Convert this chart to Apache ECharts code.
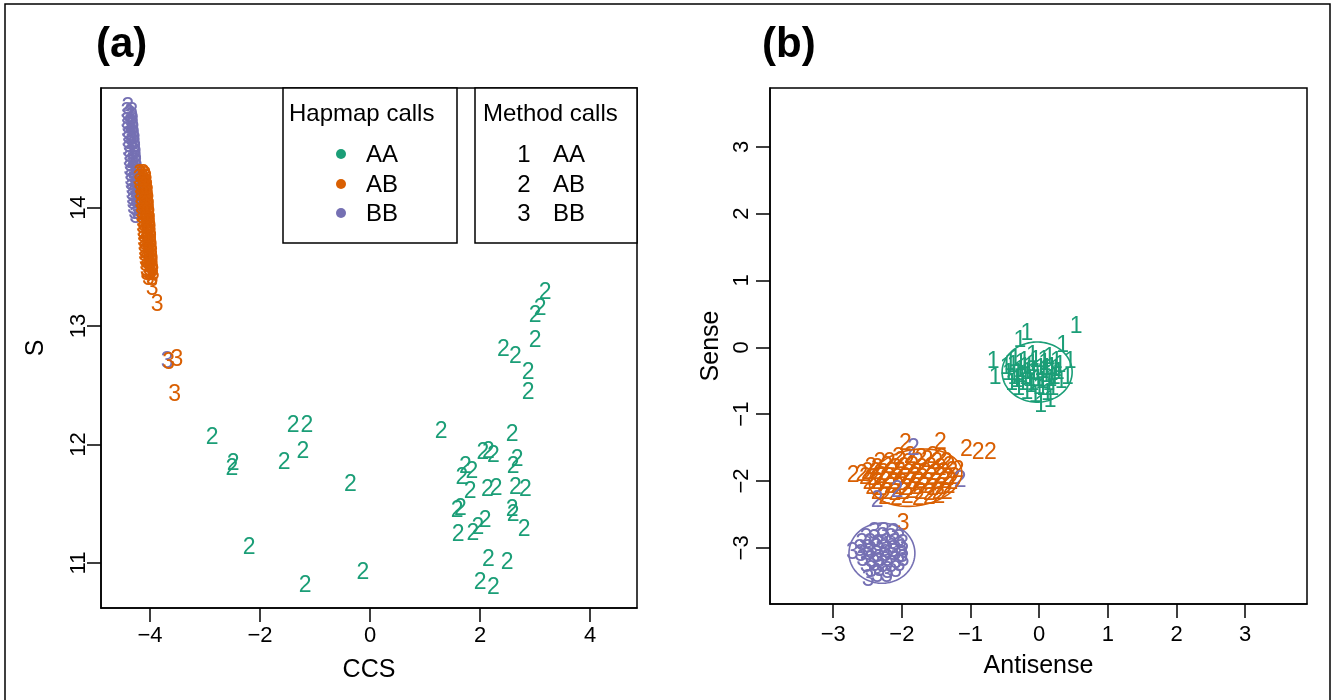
<!DOCTYPE html>
<html>
<head>
<meta charset="utf-8">
<script src="https://cdn.jsdelivr.net/npm/echarts@6/dist/echarts.min.js"></script>
<style>
  html, body { margin: 0; padding: 0; background: #ffffff; }
  #chart { width: 1334px; height: 700px; }
</style>
</head>
<body>
<div id="chart"></div>
<script>
// ---- Palette (Dark2) ----
const GREEN = '#1B9E77';
const ORANGE = '#D95F02';
const PURPLE = '#7570B3';
const FONT = '"Liberation Sans", Arial, Helvetica, sans-serif';

// ---- Panel (a): CCS vs S ----
const ccsTicks = [-4, -2, 0, 2, 4];
const sTicks = [11, 12, 13, 14];

// Hapmap AA, method call 2
const aAA2 = [
  [-2.87, 12.06], [-2.49, 11.84], [-2.51, 11.80], [-1.40, 12.16], [-1.15, 12.16],
  [-1.22, 11.94], [-1.56, 11.85], [-0.36, 11.66], [-2.20, 11.13], [-1.18, 10.81],
  [-0.13, 10.92],
  [3.18, 13.28], [3.09, 13.15], [3.00, 13.09], [3.00, 12.88], [2.42, 12.80],
  [2.64, 12.74], [2.87, 12.61], [2.87, 12.44], [1.29, 12.11], [2.58, 12.08],
  [2.05, 11.93], [2.15, 11.94], [2.24, 11.91], [2.67, 11.87], [2.60, 11.81],
  [1.73, 11.81], [1.85, 11.77], [1.67, 11.72], [1.82, 11.60], [2.13, 11.62],
  [2.29, 11.63], [2.64, 11.64], [2.82, 11.62], [1.64, 11.46], [1.58, 11.44],
  [2.58, 11.45], [2.60, 11.41], [2.09, 11.36], [1.96, 11.30], [1.87, 11.25],
  [1.60, 11.24], [2.80, 11.28], [2.15, 11.03], [2.49, 11.00], [2.00, 10.83],
  [2.24, 10.79]
];

// Hapmap BB, method call 3
const aBB3 = [
  [-4.40, 14.84], [-4.42, 14.80], [-4.33, 14.80], [-4.41, 14.76], [-4.33, 14.76],
  [-4.42, 14.72], [-4.31, 14.72], [-4.40, 14.68], [-4.31, 14.68], [-4.41, 14.64],
  [-4.30, 14.64], [-4.39, 14.60], [-4.29, 14.60], [-4.40, 14.56], [-4.28, 14.56],
  [-4.38, 14.52], [-4.28, 14.52], [-4.39, 14.48], [-4.27, 14.48], [-4.37, 14.44],
  [-4.26, 14.44], [-4.38, 14.40], [-4.26, 14.40], [-4.36, 14.36], [-4.25, 14.36],
  [-4.37, 14.32], [-4.24, 14.32], [-4.35, 14.28], [-4.24, 14.28], [-4.35, 14.24],
  [-4.23, 14.24], [-4.34, 14.20], [-4.23, 14.20], [-4.33, 14.16], [-4.22, 14.16],
  [-4.33, 14.12], [-4.22, 14.12], [-4.32, 14.08], [-4.21, 14.08], [-4.31, 14.04],
  [-4.21, 14.04], [-4.30, 14.00], [-4.21, 14.00], [-4.28, 13.96], [-4.22, 13.96],
  [-4.26, 13.92], [-4.35, 14.58], [-4.32, 14.30], [-4.29, 14.10],
  [-4.37, 14.78], [-4.36, 14.70], [-4.35, 14.62], [-4.33, 14.54], [-4.32, 14.46],
  [-4.31, 14.38], [-4.30, 14.30], [-4.29, 14.22], [-4.27, 14.14], [-4.26, 14.06],
  [-4.25, 13.98],
  [-3.69, 12.70]
];

// Hapmap AB, method call 3
const aAB3 = [
  [-4.19, 14.28], [-4.12, 14.28], [-4.20, 14.24], [-4.13, 14.24], [-4.07, 14.24],
  [-4.19, 14.20], [-4.12, 14.20], [-4.06, 14.20], [-4.18, 14.16], [-4.11, 14.16],
  [-4.05, 14.16], [-4.18, 14.12], [-4.11, 14.12], [-4.04, 14.12], [-4.17, 14.08],
  [-4.10, 14.08], [-4.04, 14.08], [-4.17, 14.04], [-4.10, 14.04], [-4.03, 14.04],
  [-4.16, 14.00], [-4.09, 14.00], [-4.02, 14.00], [-4.15, 13.96], [-4.08, 13.96],
  [-4.02, 13.96], [-4.15, 13.92], [-4.08, 13.92], [-4.01, 13.92], [-4.14, 13.88],
  [-4.07, 13.88], [-4.00, 13.88], [-4.14, 13.84], [-4.06, 13.84], [-4.00, 13.84],
  [-4.13, 13.80], [-4.06, 13.80], [-3.99, 13.80], [-4.12, 13.76], [-4.05, 13.76],
  [-3.99, 13.76], [-4.12, 13.72], [-4.05, 13.72], [-3.98, 13.72], [-4.11, 13.68],
  [-4.04, 13.68], [-3.98, 13.68], [-4.10, 13.64], [-4.03, 13.64], [-3.97, 13.64],
  [-4.10, 13.60], [-4.03, 13.60], [-3.96, 13.60], [-4.09, 13.56], [-4.02, 13.56],
  [-3.96, 13.56], [-4.08, 13.52], [-4.01, 13.52], [-3.95, 13.52], [-4.07, 13.48],
  [-4.01, 13.48], [-3.95, 13.48], [-4.06, 13.44], [-4.00, 13.44], [-3.94, 13.44],
  [-4.16, 14.26], [-4.09, 14.26], [-4.15, 14.18], [-4.08, 14.18], [-4.14, 14.10],
  [-4.07, 14.10], [-4.13, 14.02], [-4.06, 14.02], [-4.12, 13.94], [-4.05, 13.94],
  [-4.11, 13.86], [-4.04, 13.86], [-4.10, 13.78], [-4.03, 13.78], [-4.09, 13.70],
  [-4.02, 13.70], [-4.08, 13.62], [-4.01, 13.62], [-4.07, 13.54], [-4.00, 13.54],
  [-4.06, 13.46], [-3.99, 13.46],
  [-4.03, 13.40], [-3.96, 13.40], [-3.96, 13.32], [-3.87, 13.18],
  [-3.66, 12.69], [-3.51, 12.72], [-3.55, 12.42]
];

// ---- Panel (b): Antisense vs Sense ----
const senseTicks = [-3, -2, -1, 0, 1, 2, 3];

// Hapmap AA, method call 1
const bAA1 = [
  [0.54, 0.31], [-0.18, 0.21], [-0.28, 0.10], [-0.67, -0.22], [-0.64, -0.45],
  [0.34, 0.03], [0.45, -0.22], [0.41, -0.45], [0.16, -0.80],
  [-0.45, -0.40], [-0.38, -0.28], [-0.33, -0.50], [-0.28, -0.35], [-0.22, -0.22],
  [-0.20, -0.45], [-0.15, -0.30], [-0.12, -0.58], [-0.08, -0.38], [-0.05, -0.20],
  [-0.02, -0.48], [0.02, -0.32], [0.05, -0.62], [0.08, -0.25], [0.10, -0.42],
  [0.14, -0.55], [0.18, -0.30], [0.22, -0.45], [0.25, -0.22], [0.28, -0.38],
  [-0.40, -0.55], [-0.30, -0.62], [-0.18, -0.68], [-0.06, -0.72], [0.00, -0.60],
  [0.12, -0.70], [-0.35, -0.18], [-0.10, -0.12], [0.15, -0.15], [-0.25, -0.42],
  [0.06, -0.36], [-0.48, -0.30], [0.32, -0.52], [-0.14, -0.48], [0.20, -0.62],
  [0.02, -0.88], [-0.42, -0.24], [-0.31, -0.40], [-0.24, -0.55], [-0.17, -0.38],
  [-0.10, -0.26], [-0.03, -0.40], [0.04, -0.52], [0.11, -0.32], [0.17, -0.48],
  [0.24, -0.34], [0.30, -0.28], [-0.37, -0.46], [-0.21, -0.30], [0.07, -0.20],
  [0.19, -0.40], [-0.09, -0.54], [-0.27, -0.25]
];

// Hapmap AB, method call 2
const bAB2 = [
  [-2.71, -1.92], [-2.58, -1.90], [-1.95, -1.44], [-1.44, -1.42], [-1.06, -1.53],
  [-0.89, -1.57], [-0.71, -1.57], [-1.18, -1.84],
  [-2.05, -1.65], [-1.88, -1.64], [-1.72, -1.66], [-1.55, -1.64], [-1.42, -1.67],
  [-2.32, -1.72], [-2.18, -1.73], [-2.02, -1.71], [-1.91, -1.74], [-1.77, -1.72],
  [-1.63, -1.70], [-1.49, -1.73], [-1.35, -1.72],
  [-2.45, -1.80], [-2.36, -1.82], [-2.22, -1.79], [-2.09, -1.81], [-1.97, -1.80],
  [-1.84, -1.78], [-1.71, -1.81], [-1.58, -1.80], [-1.44, -1.82], [-1.31, -1.79],
  [-2.50, -1.88], [-2.38, -1.87], [-2.27, -1.89], [-2.14, -1.88], [-2.03, -1.86],
  [-1.90, -1.89], [-1.79, -1.88], [-1.66, -1.87], [-1.52, -1.89], [-1.39, -1.88],
  [-1.27, -1.86],
  [-2.53, -1.95], [-2.41, -1.96], [-2.30, -1.94], [-2.19, -1.95], [-2.06, -1.97],
  [-1.95, -1.95], [-1.82, -1.94], [-1.70, -1.96], [-1.57, -1.95], [-1.45, -1.93],
  [-1.33, -1.96], [-1.24, -1.95],
  [-2.48, -2.02], [-2.35, -2.03], [-2.24, -2.01], [-2.11, -2.02], [-2.00, -2.04],
  [-1.87, -2.02], [-1.76, -2.01], [-1.62, -2.03], [-1.50, -2.02], [-1.38, -2.01],
  [-1.27, -2.03],
  [-2.44, -2.10], [-2.31, -2.11], [-2.17, -2.09], [-2.05, -2.10], [-1.93, -2.12],
  [-1.80, -2.10], [-1.68, -2.09], [-1.55, -2.11], [-1.43, -2.10], [-1.31, -2.08],
  [-2.36, -2.18], [-2.22, -2.17], [-2.10, -2.19], [-1.98, -2.18], [-1.85, -2.16],
  [-1.73, -2.18], [-1.60, -2.19], [-1.47, -2.17], [-1.35, -2.18],
  [-2.25, -2.25], [-2.08, -2.26], [-1.92, -2.24], [-1.76, -2.26], [-1.60, -2.25],
  [-1.46, -2.24]
];

// Hapmap BB, method call 2
const bBB2 = [[-1.83, -1.51], [-1.15, -1.99], [-2.36, -2.29], [-2.07, -2.14]];

// Hapmap BB, method call 3
const bBB3 = [
  [-2.40, -2.78], [-2.26, -2.77], [-2.12, -2.79],
  [-2.52, -2.86], [-2.40, -2.87], [-2.28, -2.85], [-2.16, -2.86], [-2.04, -2.88],
  [-2.58, -2.94], [-2.46, -2.93], [-2.34, -2.95], [-2.22, -2.94], [-2.10, -2.93],
  [-1.99, -2.95],
  [-2.61, -3.02], [-2.49, -3.03], [-2.37, -3.01], [-2.25, -3.02], [-2.13, -3.04],
  [-2.01, -3.02],
  [-2.60, -3.10], [-2.48, -3.09], [-2.36, -3.11], [-2.24, -3.10], [-2.12, -3.09],
  [-2.00, -3.11],
  [-2.57, -3.18], [-2.45, -3.19], [-2.33, -3.17], [-2.21, -3.18], [-2.09, -3.20],
  [-1.98, -3.18],
  [-2.52, -3.26], [-2.40, -3.25], [-2.28, -3.27], [-2.16, -3.26], [-2.04, -3.25],
  [-2.45, -3.34], [-2.33, -3.33], [-2.21, -3.35], [-2.09, -3.34],
  [-2.36, -3.42], [-2.22, -3.41],
  [-2.72, -3.07], [-2.49, -3.48]
];

// Hapmap AB, method call 3
const bAB3 = [[-1.98, -2.64]];

// Cluster ellipses: centre x, centre y, radius x, radius y, tilt (deg)
const ellipseAA = [-0.03, -0.37, 0.51, 0.45, 0];
const ellipseAB = [-1.80, -1.95, 0.68, 0.42, 10];
const ellipseBB = [-2.29, -3.08, 0.48, 0.45, 0];

// ---- Chart ----
const chart = echarts.init(document.getElementById('chart'), null, { renderer: 'canvas' });

const minus = v => (v < 0 ? '\u2212' + Math.abs(v) : String(v));

function glyphs(axis, data, ch, color) {
  return {
    type: 'custom',
    xAxisIndex: axis, yAxisIndex: axis,
    silent: true,
    data: data,
    renderItem: function (params, api) {
      const p = api.coord([api.value(0), api.value(1)]);
      return {
        type: 'text', x: p[0], y: p[1],
        style: {
          text: ch, fill: color, fontSize: 23, fontFamily: FONT,
          align: 'center', verticalAlign: 'middle'
        }
      };
    }
  };
}

function ellipse(axis, e, color) {
  return {
    type: 'custom',
    xAxisIndex: axis, yAxisIndex: axis,
    silent: true,
    data: [e],
    renderItem: function (params, api) {
      const cx = api.value(0), cy = api.value(1), rx = api.value(2), ry = api.value(3);
      const a = api.value(4) * Math.PI / 180;
      const pts = [];
      for (let k = 0; k <= 90; k++) {
        const t = k / 90 * 2 * Math.PI;
        const dx = rx * Math.cos(t), dy = ry * Math.sin(t);
        pts.push(api.coord([cx + dx * Math.cos(a) - dy * Math.sin(a),
                            cy + dx * Math.sin(a) + dy * Math.cos(a)]));
      }
      return { type: 'polyline', shape: { points: pts }, style: { fill: null, stroke: color, lineWidth: 1.6 } };
    }
  };
}

function valueAxis(grid, min, max, ticks, name, nameGap, isY, labelMargin) {
  return {
    type: 'value', gridIndex: grid, min: min, max: max,
    name: name, nameLocation: 'middle', nameGap: nameGap,
    nameTextStyle: { fontSize: 25, color: '#000', fontFamily: FONT },
    axisLine: { show: true, onZero: false, lineStyle: { color: '#000', width: 1.5 } },
    axisTick: { show: true, customValues: ticks, length: 14, lineStyle: { color: '#000', width: 1.5 } },
    axisLabel: {
      customValues: ticks, fontSize: 22, color: '#000', fontFamily: FONT,
      margin: labelMargin, rotate: isY ? 90 : 0, formatter: minus
    },
    splitLine: { show: false }
  };
}

const option = {
  backgroundColor: '#ffffff',
  animation: false,
  grid: [
    { left: 101, top: 88, width: 536, height: 520, show: true, borderColor: '#000', borderWidth: 1.5, containLabel: false },
    { left: 770, top: 88, width: 537, height: 516, show: true, borderColor: '#000', borderWidth: 1.5, containLabel: false }
  ],
  xAxis: [
    valueAxis(0, -4.89, 4.85, ccsTicks, 'CCS', 50, false, 17),
    valueAxis(1, -3.92, 3.90, senseTicks, 'Antisense', 50, false, 20)
  ],
  yAxis: [
    valueAxis(0, 10.62, 15.01, sTicks, 'S', 52, true, 11),
    valueAxis(1, -3.84, 3.88, senseTicks, 'Sense', 46, true, 17)
  ],
  series: [
    glyphs(0, aBB3, '3', PURPLE),
    glyphs(0, aAB3, '3', ORANGE),
    glyphs(0, aAA2, '2', GREEN),
    glyphs(1, bAA1, '1', GREEN),
    glyphs(1, bAB2, '2', ORANGE),
    glyphs(1, bBB2, '2', PURPLE),
    glyphs(1, bBB3, '3', PURPLE),
    glyphs(1, bAB3, '3', ORANGE),
    ellipse(1, ellipseAA, GREEN),
    ellipse(1, ellipseAB, ORANGE),
    ellipse(1, ellipseBB, PURPLE)
  ],
  graphic: [
    // outer frame
    { type: 'rect', shape: { x: 5, y: 4, width: 1325, height: 710 }, style: { fill: null, stroke: '#000', lineWidth: 1.5 }, silent: true },
    // panel titles
    { type: 'text', left: 96, top: 24, style: { text: '(a)', fontSize: 42, fontWeight: 'bold', fontFamily: FONT, fill: '#000' } },
    { type: 'text', left: 762, top: 24, style: { text: '(b)', fontSize: 42, fontWeight: 'bold', fontFamily: FONT, fill: '#000' } },
    // legend: Hapmap calls
    { type: 'rect', shape: { x: 283, y: 88, width: 174, height: 155 }, style: { fill: '#fff', stroke: '#000', lineWidth: 1.5 }, z: 10 },
    { type: 'text', x: 289, y: 114, style: { text: 'Hapmap calls', fontSize: 24, fontFamily: FONT, fill: '#000', verticalAlign: 'middle' }, z: 11 },
    { type: 'circle', shape: { cx: 341, cy: 154, r: 5 }, style: { fill: GREEN }, z: 11 },
    { type: 'circle', shape: { cx: 341, cy: 184, r: 5 }, style: { fill: ORANGE }, z: 11 },
    { type: 'circle', shape: { cx: 341, cy: 213, r: 5 }, style: { fill: PURPLE }, z: 11 },
    { type: 'text', x: 366, y: 155, style: { text: 'AA', fontSize: 24, fontFamily: FONT, fill: '#000', verticalAlign: 'middle' }, z: 11 },
    { type: 'text', x: 366, y: 185, style: { text: 'AB', fontSize: 24, fontFamily: FONT, fill: '#000', verticalAlign: 'middle' }, z: 11 },
    { type: 'text', x: 366, y: 214, style: { text: 'BB', fontSize: 24, fontFamily: FONT, fill: '#000', verticalAlign: 'middle' }, z: 11 },
    // legend: Method calls
    { type: 'rect', shape: { x: 475, y: 88, width: 162, height: 155 }, style: { fill: '#fff', stroke: '#000', lineWidth: 1.5 }, z: 10 },
    { type: 'text', x: 483, y: 114, style: { text: 'Method calls', fontSize: 24, fontFamily: FONT, fill: '#000', verticalAlign: 'middle' }, z: 11 },
    { type: 'text', x: 524, y: 155, style: { text: '1', fontSize: 24, fontFamily: FONT, fill: '#000', align: 'center', verticalAlign: 'middle' }, z: 11 },
    { type: 'text', x: 524, y: 185, style: { text: '2', fontSize: 24, fontFamily: FONT, fill: '#000', align: 'center', verticalAlign: 'middle' }, z: 11 },
    { type: 'text', x: 524, y: 214, style: { text: '3', fontSize: 24, fontFamily: FONT, fill: '#000', align: 'center', verticalAlign: 'middle' }, z: 11 },
    { type: 'text', x: 553, y: 155, style: { text: 'AA', fontSize: 24, fontFamily: FONT, fill: '#000', verticalAlign: 'middle' }, z: 11 },
    { type: 'text', x: 553, y: 185, style: { text: 'AB', fontSize: 24, fontFamily: FONT, fill: '#000', verticalAlign: 'middle' }, z: 11 },
    { type: 'text', x: 553, y: 214, style: { text: 'BB', fontSize: 24, fontFamily: FONT, fill: '#000', verticalAlign: 'middle' }, z: 11 }
  ]
};

chart.setOption(option);
</script>
</body>
</html>
